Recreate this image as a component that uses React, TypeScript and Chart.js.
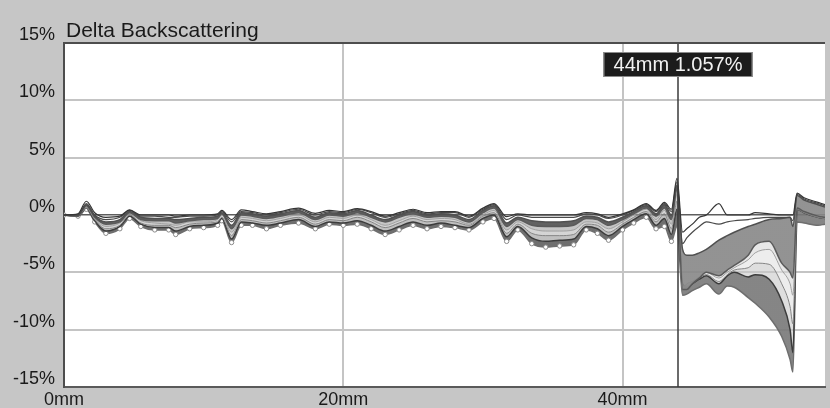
import React, { useEffect, useRef } from "react";
import { Chart, registerables } from "chart.js";

Chart.register(...registerables);

// Position along the sample (mm)
const positionsMm = [
  0, 1, 1.6, 2.2, 3, 4, 4.7, 5.5, 6.5, 7.5,
  8, 9, 10, 11, 11.3, 12, 12.7, 13.5, 14.5, 15.5,
  16.8, 18, 19, 20, 21, 22, 23, 24, 25, 26,
  27, 28, 29, 30, 30.8, 31.7, 32.5, 33.5, 34.5, 35.5,
  36.5, 37.4, 38.2, 39, 40, 40.8, 41.7, 42.4, 43, 43.5,
  43.9, 44.3, 44.6, 45, 45.5, 46, 46.9, 47.5, 48, 49,
  49.5, 50.5, 51.4, 52, 52.2, 52.5, 53, 54, 54.5,
];

// Delta backscattering (%) of successive scans
const scanA = [
  0, 0.1, 1.2, 0.2, -0.2, -0.1, 0.45, 0, 0, 0,
  -0.1, 0, 0, 0.1, 0.4, -0.4, 0.45, 0.3, 0.1, 0.3,
  0.6, 0.15, 0.4, 0.3, 0.55, 0.3, -0.1, 0.2, 0.5, 0.2,
  0.3, 0.3, -0.1, 0.6, 1.0, -0.15, 0.1, 0, 0, 0,
  0, 0.2, 0.1, -0.2, 0.1, 0.45, 1.0, 0.4, 1.1, 0.5,
  3.2, -1.5, -1.2, -0.8, -0.2, 0, 1.0, 0, 0, 0,
  0.2, 0.1, 0, 0, 0, 1.9, 1.5, 1.1, 0.9,
];
const scanB = [
  0, 0, 1.0, 0, -0.4, -0.2, 0.4, -0.1, -0.1, -0.2,
  -0.2, -0.1, -0.1, 0, 0.3, -0.6, 0.3, 0.2, 0, 0.2,
  0.5, 0, 0.3, 0.2, 0.5, 0.2, -0.2, 0.1, 0.4, 0.1,
  0.2, 0.2, -0.2, 0.5, 0.9, -0.4, 0, -0.2, -0.2, -0.2,
  -0.2, 0.1, 0, -0.3, 0, 0.4, 0.9, 0.3, 1.0, 0.3,
  2.9, -2.5, -2.0, -1.5, -1.0, -0.6, -0.8, -0.6, -0.5, -0.4,
  -0.3, -0.2, -0.2, -0.2, -0.5, 1.8, 1.4, 1.0, 0.8,
];
const scanC = [
  0, 0, 0.9, -0.1, -0.6, -0.4, 0.3, -0.2, -0.3, -0.3,
  -0.4, -0.3, -0.2, -0.1, 0.2, -0.9, 0.2, 0.1, -0.1, 0.1,
  0.4, -0.2, 0.2, 0.1, 0.4, 0, -0.4, 0, 0.3, 0,
  0.1, 0, -0.4, 0.4, 0.8, -0.7, -0.2, -0.5, -0.6, -0.6,
  -0.5, -0.1, -0.2, -0.6, -0.2, 0.3, 0.8, 0.1, 0.9, 0,
  2.6, -3.0, -3.5, -3.5, -3.3, -3.0, -2.2, -1.8, -1.5, -1.0,
  -0.8, -0.4, -0.3, -0.2, -1.0, 1.7, 1.3, 0.9, 0.7,
];
const scanD = [
  0, -0.1, 0.8, -0.2, -0.8, -0.6, 0.2, -0.4, -0.5, -0.5,
  -0.7, -0.5, -0.4, -0.3, 0.1, -1.2, 0, -0.1, -0.3, -0.1,
  0.2, -0.4, 0, -0.1, 0.2, -0.2, -0.6, -0.2, 0.1, -0.2,
  -0.1, -0.2, -0.6, 0.2, 0.6, -1.0, -0.4, -0.9, -1.0, -1.0,
  -0.9, -0.3, -0.4, -0.9, -0.4, 0.1, 0.6, -0.1, 0.6, -0.4,
  2.2, -6.5, -6.5, -6.0, -5.5, -5.0, -5.3, -4.8, -4.4, -3.5,
  -2.6, -2.3, -4.2, -5.0, -5.5, 0.6, 0.3, -0.1, -0.2,
];
const scanE = [
  0, -0.1, 0.7, -0.3, -1.0, -0.7, 0.1, -0.5, -0.7, -0.8,
  -0.9, -0.6, -0.6, -0.4, 0, -1.5, -0.2, -0.3, -0.5, -0.3,
  0, -0.6, -0.2, -0.3, 0, -0.4, -0.9, -0.5, -0.1, -0.4,
  -0.3, -0.4, -0.8, 0, 0.4, -1.3, -0.6, -1.2, -1.4, -1.4,
  -1.3, -0.6, -0.7, -1.2, -0.6, 0, 0.5, -0.4, 0.4, -0.8,
  1.8, -6.4, -6.0, -5.8, -5.4, -5.0, -5.5, -5.0, -4.6, -3.9,
  -3.3, -3.0, -4.8, -6.0, -7.0, 0.6, 0.3, -0.1, -0.2,
];
const scanF = [
  0, -0.1, 0.6, -0.4, -1.2, -0.9, 0, -0.7, -0.9, -0.9,
  -1.1, -0.8, -0.7, -0.6, -0.2, -1.8, -0.4, -0.5, -0.7, -0.5,
  -0.2, -0.8, -0.4, -0.5, -0.2, -0.6, -1.1, -0.7, -0.3, -0.6,
  -0.5, -0.6, -0.9, -0.1, 0.2, -1.6, -0.8, -1.6, -1.8, -1.8,
  -1.7, -0.8, -0.9, -1.5, -0.8, -0.2, 0.3, -0.6, 0.1, -1.2,
  1.2, -6.2, -6.2, -5.9, -5.5, -5.2, -5.8, -5.2, -4.8, -4.6,
  -4.2, -4.3, -6.0, -8.0, -9.5, 0.5, 0.2, -0.2, -0.3,
];
const scanG = [
  0, -0.1, 0.6, -0.5, -1.4, -1.0, -0.1, -0.8, -1.1, -1.1,
  -1.4, -1.0, -0.9, -0.7, -0.3, -2.1, -0.6, -0.7, -0.9, -0.7,
  -0.4, -1.0, -0.6, -0.7, -0.5, -0.9, -1.4, -1.0, -0.6, -0.9,
  -0.7, -0.9, -1.1, -0.3, 0, -1.9, -1.0, -2.0, -2.3, -2.2,
  -2.1, -1.0, -1.2, -1.8, -1.0, -0.4, 0.1, -0.9, -0.3, -1.7,
  0.5, -6.0, -6.3, -6.0, -5.6, -5.3, -6.0, -5.3, -5.0, -5.4,
  -5.2, -5.6, -7.5, -10.0, -12.0, 0.5, 0.2, -0.2, -0.3,
];
const scanH = [
  0, -0.1, 0.5, -0.6, -1.6, -1.2, -0.3, -1.0, -1.3, -1.3,
  -1.7, -1.2, -1.1, -0.9, -0.5, -2.4, -0.9, -0.9, -1.2, -0.9,
  -0.7, -1.2, -0.8, -0.9, -0.8, -1.2, -1.7, -1.3, -0.9, -1.2,
  -1.0, -1.1, -1.3, -0.6, -0.3, -2.3, -1.3, -2.5, -2.8, -2.7,
  -2.6, -1.3, -1.6, -2.2, -1.3, -0.7, -0.2, -1.2, -1.0, -2.3,
  -1.0, -7.0, -6.9, -6.6, -6.3, -6.0, -6.9, -6.2, -6.3, -7.2,
  -7.7, -8.9, -10.6, -12.6, -13.7, -0.6, -0.7, -0.9, -0.8,
];

const xTicks = [0, 20, 40];
const yTicks = [-15, -10, -5, 0, 5, 10, 15];
const xMin = 0;
const xMax = 54.5;
const titleText = "Delta Backscattering";
const cursorMm = 44;
const cursorValue = 1.057;

const FONT = '"Liberation Sans", Arial, sans-serif';

export default function App() {
  const ref = useRef<HTMLCanvasElement>(null);

  useEffect(() => {
    const canvas = ref.current;
    if (!canvas) return;
    const toPts = (s: number[]) => positionsMm.map((x, i) => ({ x, y: s[i] }));

    const framePlugin = {
      id: "frame",
      beforeDraw(chart: any) {
        const { ctx, chartArea: a } = chart;
        ctx.save();
        ctx.fillStyle = "#c6c6c6";
        ctx.fillRect(0, 0, chart.width, chart.height);
        ctx.fillStyle = "#ffffff";
        ctx.fillRect(a.left, a.top, a.right - a.left, a.bottom - a.top);
        ctx.restore();
      },
      afterDatasetsDraw(chart: any) {
        const { ctx, chartArea: a, scales } = chart;
        const cx = Math.round(scales.x.getPixelForValue(cursorMm));
        ctx.save();
        ctx.strokeStyle = "#3a3a3a";
        ctx.lineWidth = 1.5;
        ctx.beginPath();
        ctx.moveTo(cx, a.top);
        ctx.lineTo(cx, a.bottom);
        ctx.stroke();

        ctx.strokeStyle = "#4d4d4d";
        ctx.lineWidth = 2;
        ctx.beginPath();
        ctx.moveTo(a.left - 1, a.top);
        ctx.lineTo(a.right, a.top);
        ctx.stroke();

        ctx.fillStyle = "#1a1a1a";
        ctx.font = `21px ${FONT}`;
        ctx.textAlign = "left";
        ctx.textBaseline = "alphabetic";
        ctx.fillText(titleText, a.left + 2, a.top - 6);

        const label = `${cursorMm}mm ${cursorValue.toFixed(3)}%`;
        ctx.font = `20px ${FONT}`;
        const w = ctx.measureText(label).width + 20;
        const h = 25;
        const bx = cx - w / 2;
        const by = a.top + 9;
        ctx.fillStyle = "#1c1c1c";
        ctx.fillRect(bx, by, w, h);
        ctx.strokeStyle = "#8a8a8a";
        ctx.lineWidth = 1;
        ctx.strokeRect(bx + 0.5, by + 0.5, w - 1, h - 1);
        ctx.fillStyle = "#f2f2f2";
        ctx.textAlign = "center";
        ctx.textBaseline = "middle";
        ctx.fillText(label, cx, by + h / 2 + 1);
        ctx.restore();
      },
    };

    const pointR = (c: any) => (positionsMm[c.dataIndex] < 43.6 ? 2.2 : 0);

    // band fill: one tone left of the cursor, another right of it
    const bandFill = (left: string, right: string) => (c: any) => {
      const chart = c.chart;
      const a = chart.chartArea;
      if (!a) return left;
      const px = chart.scales.x.getPixelForValue(cursorMm);
      const g = chart.ctx.createLinearGradient(a.left, 0, a.right, 0);
      const f = Math.min(1, Math.max(0, (px - a.left) / (a.right - a.left)));
      g.addColorStop(0, left);
      g.addColorStop(f, left);
      g.addColorStop(Math.min(1, f + 0.001), right);
      g.addColorStop(1, right);
      return g;
    };

    const line = (data: number[], color: string, width: number, extra: any = {}) => ({
      data: toPts(data),
      borderColor: color,
      borderWidth: width,
      pointRadius: 0,
      fill: false,
      tension: 0.3,
      cubicInterpolationMode: "monotone",
      ...extra,
    });

    const chart = new Chart(canvas, {
      type: "line",
      data: {
        datasets: [
          line(scanA, "#353535", 1.2),
          line(scanB, "#4a4a4a", 1.2),
          line(scanC, "#505050", 1.5),
          line(scanD, "#5a5a5a", 1.5, {
            fill: "-1",
            backgroundColor: bandFill("rgba(80,80,80,0.9)", "rgba(135,135,135,0.9)"),
          }),
          line(scanE, "#a0a0a0", 1, {
            fill: "-1",
            backgroundColor: bandFill("rgba(150,150,150,0.55)", "rgba(215,215,215,0.6)"),
          }),
          line(scanF, "#858585", 1, {
            fill: "-1",
            backgroundColor: bandFill("rgba(170,170,170,0.5)", "rgba(225,225,225,0.6)"),
          }),
          line(scanG, "#3c3c3c", 1.5, {
            fill: "-1",
            backgroundColor: bandFill("rgba(140,140,140,0.55)", "rgba(200,200,200,0.6)"),
          }),
          line(scanH, "#6e6e6e", 1.5, {
            fill: "-1",
            backgroundColor: bandFill("rgba(95,95,95,0.9)", "rgba(120,120,120,0.9)"),
            pointRadius: pointR,
            pointBackgroundColor: "#ffffff",
            pointBorderColor: "#8a8a8a",
            pointBorderWidth: 1,
          }),
        ] as any,
      },
      options: {
        responsive: false,
        animation: false,
        devicePixelRatio: 1,
        events: [],
        layout: { padding: { top: 43, right: 0, left: 0, bottom: 0 } },
        plugins: {
          legend: { display: false },
          tooltip: { enabled: false },
          title: { display: false },
        },
        scales: {
          x: {
            type: "linear",
            min: xMin,
            max: xMax,
            afterBuildTicks: (s: any) => {
              s.ticks = xTicks.map((v) => ({ value: v }));
            },
            afterFit: (s: any) => {
              s.height = 21;
            },
            grid: { color: "#c4c4c4", lineWidth: 2, drawTicks: false },
            border: { display: true, color: "#5a5a5a", width: 2 },
            ticks: {
              padding: 2,
              maxRotation: 0,
              color: "#1a1a1a",
              font: { family: FONT, size: 18 },
              callback: (v: any) => `${v}mm`,
            },
          },
          y: {
            type: "linear",
            min: -15,
            max: 15,
            afterBuildTicks: (s: any) => {
              s.ticks = yTicks.map((v) => ({ value: v }));
            },
            afterFit: (s: any) => {
              s.width = 64;
            },
            grid: {
              color: (c: any) => (c.tick && c.tick.value === 0 ? "#5e5e5e" : "#c4c4c4"),
              lineWidth: (c: any) => (c.tick && c.tick.value === 0 ? 1.5 : 2),
              drawTicks: false,
            },
            border: { display: true, color: "#4d4d4d", width: 2 },
            ticks: {
              padding: 9,
              labelOffset: -8,
              color: "#1a1a1a",
              font: { family: FONT, size: 18 },
              callback: (v: any) => `${v}%`,
            },
          },
        },
      } as any,
      plugins: [framePlugin],
    });

    return () => chart.destroy();
  }, []);

  return (
    <div
      style={{
        position: "fixed",
        left: 0,
        top: 0,
        width: 830,
        height: 408,
        background: "#c6c6c6",
      }}
    >
      <canvas ref={ref} width={830} height={408} style={{ display: "block" }} />
    </div>
  );
}
